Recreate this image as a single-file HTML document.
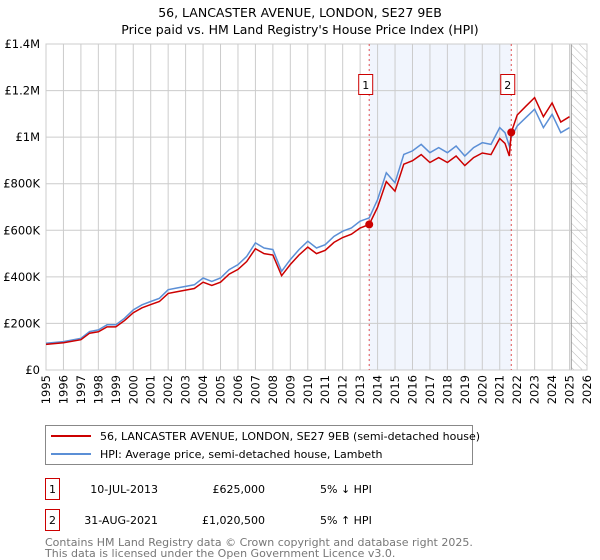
<!DOCTYPE html>
<html><head><meta charset="utf-8"><style>
body{margin:0;background:#fff;font-family:"DejaVu Sans","Liberation Sans",sans-serif;}
#wrap{position:relative;width:600px;height:560px;overflow:hidden}
text{font-family:"DejaVu Sans","Liberation Sans",sans-serif}
</style></head><body><div id="wrap">
<svg id="svg" width="600" height="560">
<text x="300" y="17" text-anchor="middle" font-size="12.5" fill="#000">56, LANCASTER AVENUE, LONDON, SE27 9EB</text>
<text x="300" y="34" text-anchor="middle" font-size="12.5" fill="#000">Price paid vs. HM Land Registry's House Price Index (HPI)</text>
<g id="plot"></g>
<rect x="45.5" y="425.5" width="427" height="39" fill="#fff" stroke="#888"/>
<line x1="51" y1="436" x2="91" y2="436" stroke="#cc0000" stroke-width="2"/>
<text x="100" y="440" font-size="11">56, LANCASTER AVENUE, LONDON, SE27 9EB (semi-detached house)</text>
<line x1="51" y1="454" x2="91" y2="454" stroke="#5b8fd6" stroke-width="2"/>
<text x="100" y="458" font-size="11">HPI: Average price, semi-detached house, Lambeth</text>
<g>
<rect x="45.5" y="478.5" width="14" height="21" fill="none" stroke="#cc0000"/>
<text x="52.5" y="493" text-anchor="middle" font-size="11">1</text>
<text x="158" y="493" text-anchor="end" font-size="11">10-JUL-2013</text>
<text x="265" y="493" text-anchor="end" font-size="11">£625,000</text>
<text x="320" y="493" font-size="11">5% ↓ HPI</text></g>
<g>
<rect x="45.5" y="509.5" width="14" height="21" fill="none" stroke="#cc0000"/>
<text x="52.5" y="524" text-anchor="middle" font-size="11">2</text>
<text x="158" y="524" text-anchor="end" font-size="11">31-AUG-2021</text>
<text x="265" y="524" text-anchor="end" font-size="11">£1,020,500</text>
<text x="320" y="524" font-size="11">5% ↑ HPI</text></g>
<text x="45" y="546" font-size="11" fill="#777">Contains HM Land Registry data © Crown copyright and database right 2025.</text>
<text x="45" y="557" font-size="11" fill="#777">This data is licensed under the Open Government Licence v3.0.</text>
</svg></div>
<script>
const years=[1995,1996,1997,1997.5,1998,1998.5,1999,1999.5,2000,2000.5,2001,2001.5,2002,2002.5,2003,2003.5,2004,2004.5,2005,2005.5,2006,2006.5,2007,2007.5,2008,2008.5,2009,2009.5,2010,2010.5,2011,2011.5,2012,2012.5,2013,2013.52,2014,2014.5,2015,2015.5,2016,2016.5,2017,2017.5,2018,2018.5,2019,2019.5,2020,2020.5,2021,2021.3,2021.55,2021.66,2022,2022.5,2023,2023.5,2024,2024.5,2025];
const hpi=[115,122,136,165,172,194,194,222,258,280,294,308,345,352,359,366,395,380,395,431,452,488,546,524,517,424,474,517,553,524,538,574,596,610,639,653,732,847,804,926,941,969,933,955,933,962,919,955,976,969,1041,1019,962,1000,1048,1084,1120,1041,1098,1019,1041];
const price=[110,117,130,158,164,185,185,212,246,267,281,294,329,336,343,350,377,363,377,412,432,466,521,500,494,405,453,494,528,500,514,548,569,583,610,625,699,809,768,884,899,925,891,912,891,919,878,912,932,925,994,973,919,1020.5,1095,1133,1170,1088,1147,1065,1088];
const saleYears=[2013.52,2021.66];
const salePrices=[625,1020.5];
const yTicks=[0,200,400,600,800,1000,1200,1400];
const yTickLabels=["£0","£200K","£400K","£600K","£800K","£1M","£1.2M","£1.4M"];
const xTicks=[1995,1996,1997,1998,1999,2000,2001,2002,2003,2004,2005,2006,2007,2008,2009,2010,2011,2012,2013,2014,2015,2016,2017,2018,2019,2020,2021,2022,2023,2024,2025,2026];
const L=46,R=587,T=44,B=370;
const X=v=>L+(v-1995)/31*(R-L);
const Y=v=>B-v/1400*(B-T);
const NS="http://www.w3.org/2000/svg";
const g=document.getElementById('plot');
function mk(t,a,p){const e=document.createElementNS(NS,t);for(const k in a)e.setAttribute(k,a[k]);(p||g).appendChild(e);return e;}
const shade=mk('rect',{x:X(saleYears[0]),y:T,width:X(saleYears[1])-X(saleYears[0]),height:B-T,fill:'#eef3fc',opacity:0.8});


const defs=mk('defs',{});
const pat=mk('pattern',{id:'hatch',width:6,height:6,patternUnits:'userSpaceOnUse',patternTransform:'rotate(-45)'},defs);
mk('line',{x1:0,y1:0,x2:0,y2:6,stroke:'#bbb','stroke-width':1},pat);
xTicks.forEach(t=>{const l=mk('line',{x1:X(t),y1:T,x2:X(t),y2:B,stroke:'#cccccc'});


const tx=mk('text',{x:0,y:0,'text-anchor':'end','font-size':11.5,transform:'translate('+(X(t)+4)+','+(B+5)+') rotate(-90)'});tx.textContent=t;

});
yTicks.forEach((t,i)=>{const l=mk('line',{x1:L,y1:Y(t),x2:R,y2:Y(t),stroke:'#cccccc'});


const tx=mk('text',{x:L-6,y:Y(t)+4,'text-anchor':'end','font-size':11.5});tx.textContent=yTickLabels[i];

});
const hat=mk('rect',{x:X(2025.1),y:T,width:R-X(2025.1),height:B-T,fill:'url(#hatch)',stroke:'#999'});


mk('rect',{x:L,y:T,width:R-L,height:B-T,fill:'none',stroke:'#ccc'});
saleYears.forEach((s,i)=>{const l=mk('line',{x1:X(s),y1:T,x2:X(s),y2:B,stroke:'#e05050','stroke-dasharray':'2,3'});


const bx=mk('rect',{x:X(s)-10.5,y:74.5,width:14,height:20,fill:'#fff',stroke:'#cc0000'});


const tx=mk('text',{x:X(s)-3.5,y:89,'text-anchor':'middle','font-size':11});tx.textContent=i+1;

});
const pts=a=>a.map((v,i)=>X(years[i]).toFixed(1)+','+Y(v).toFixed(1)).join(' ');
const hl=mk('polyline',{points:pts(hpi),fill:'none',stroke:'#5b8fd6','stroke-width':1.5});


const pl=mk('polyline',{points:pts(price),fill:'none',stroke:'#cc0000','stroke-width':1.5});


saleYears.forEach((s,i)=>{const c=mk('circle',{cx:X(s),cy:Y(salePrices[i]),r:4,fill:'#cc0000'});

});
</script></body></html>
